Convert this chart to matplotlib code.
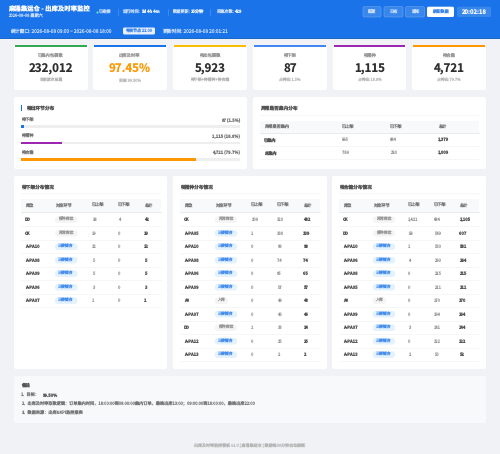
import matplotlib
matplotlib.use('Agg')
import matplotlib.pyplot as plt
from matplotlib.patches import FancyBboxPatch, Rectangle

plt.rcParams['font.family'] = ['Noto Sans CJK SC', 'DejaVu Sans']
plt.rcParams['text.hinting'] = 'no_hinting'

BLUE = '#1a73e8'
DARK = '#555555'
GREY = '#999999'
LABEL = '#777777'
LINE = '#f0f0f0'
HEAD = '#c4dbfa'

# kpi cards
card_titles = ['已集内包裹数', '出库及时率', '待出包裹数', '待下架', '待播种', '待合箱']
card_values = ['232,012', '97.45%', '5,923', '87', '1,115', '4,721']
card_subs = ['当前波次总量', '目标 99.50%', '待下架+待播种+待合箱', '占待出 1.5%', '占待出 18.8%', '占待出 79.7%']
card_colors = ['#34a853', BLUE, '#fbbc04', '#4285f4', '#9c27b0', '#ff9800']

# stage distribution
stage_names = ['待下架', '待播种', '待合箱']
stage_counts = ['87 (1.5%)', '1,115 (18.8%)', '4,721 (79.7%)']
stage_pct = [1.5, 18.8, 79.7]
stage_colors = ['#1a73e8', '#9c27b0', '#ff9800']

# abnormal table
abn_header = ['异常是否集内', '已上架', '已下架', '总计']
abn_names = ['已集内', '未集内']
abn_up = ['695', '789']
abn_down = ['684', '220']
abn_total = ['1,379', '1,009']

table_header = ['库位', '对应环节', '已上架', '已下架', '总计']

# 待下架
t1_loc = ['DD', 'CK', 'A-PA10', 'A-PA08', 'A-PA09', 'A-PA06', 'A-PA07']
t1_stage = ['播种库位', '异常库位', '三楼储合', '三楼储合', '三楼储合', '三楼储合', '三楼储合']
t1_up = ['38', '19', '12', '5', '5', '3', '1']
t1_down = ['4', '0', '0', '0', '0', '0', '0']
t1_total = ['42', '19', '12', '5', '5', '3', '1']

# 待播种
t2_loc = ['CK', 'A-PA05', 'A-PA10', 'A-PA08', 'A-PA06', 'A-PA09', 'A0', 'A-PA07', 'DD', 'A-PA12', 'A-PA13']
t2_stage = ['异常库位', '三楼储合', '三楼储合', '三楼储合', '三楼储合', '三楼储合', '入库', '三楼储合', '播种库位', '三楼储合', '三楼储合']
t2_up = ['309', '1', '0', '0', '0', '0', '0', '0', '1', '0', '0']
t2_down = ['123', '138', '93', '74', '65', '57', '48', '46', '33', '25', '2']
t2_total = ['432', '139', '93', '74', '65', '57', '48', '46', '34', '25', '2']

# 待合箱
t3_loc = ['CK', 'DD', 'A-PA10', 'A-PA06', 'A-PA08', 'A-PA05', 'A0', 'A-PA09', 'A-PA07', 'A-PA12', 'A-PA13']
t3_stage = ['异常库位', '播种库位', '三楼储合', '三楼储合', '三楼储合', '三楼储合', '入库', '三楼储合', '三楼储合', '三楼储合', '三楼储合']
t3_up = ['1,421', '58', '1', '4', '0', '0', '0', '0', '3', '0', '2']
t3_down = ['684', '549', '530', '260', '215', '211', '170', '164', '141', '122', '50']
t3_total = ['2,105', '607', '531', '264', '215', '211', '170', '164', '144', '122', '52']

notes = ['1、目标：', '2、出库及时率取数逻辑：订单集内时间，18:00:00到09:00:00集内订单，最晚出库13:00；09:00:00到18:00:00，最晚出库22:00', '3、数据来源：出库&KPI监控报表']

fig = plt.figure(figsize=(5, 4.54), dpi=100, facecolor='#f0f2f5')
ax = fig.add_axes([0, 0, 1, 1])
ax.set_xlim(0, 500)
ax.set_ylim(454, 0)
ax.axis('off')


def box(x0, y0, x1, y1, color='white', r=2, ec='none', lw=0, z=1):
    ax.add_patch(FancyBboxPatch((x0 + r, y0 + r), x1 - x0 - 2 * r, y1 - y0 - 2 * r,
                                boxstyle='round,pad=%f,rounding_size=%f' % (r, r),
                                fc=color, ec=ec, lw=lw, zorder=z))


def txt(x, y, s, size=3, color=DARK, weight='normal', ha='left'):
    ax.text(x, y, s, fontsize=size, color=color, fontweight=weight, ha=ha, va='center', zorder=5)


# header
ax.add_patch(Rectangle((0, 0), 500, 38, fc=BLUE, ec='none'))
ax.plot([0, 500], [38.3, 38.3], color='#1565c0', lw=0.7)
txt(8, 9, '麻涌集运仓 - 出库及时率监控', 4.6, '#f4f8ff', 'bold')
txt(8, 16, '2026-08-08 星期六', 3, HEAD)
ax.plot([96.5], [12], 'o', ms=1.5, color='#69f0ae', mew=0)
txt(99, 12, '已连接', 3, HEAD)
txt(122, 12, '运行时间: ', 3, HEAD)
txt(141.5, 12, '5d 4h 4m', 3, '#e4effd', 'bold')
txt(172, 12, '数据更新: ', 3, HEAD)
txt(191, 12, '15分钟', 3, '#e4effd', 'bold')
txt(216, 12, '采集次数: ', 3, HEAD)
txt(234, 12, '429', 3, '#e4effd', 'bold')
for sx in [118, 168, 210]:
    ax.plot([sx, sx], [8.5, 15], color='#5a9cf0', lw=0.4)
txt(10.5, 31, '统计窗口: 2026-08-08 09:00 ~ 2026-08-08 18:00', 3.45, HEAD)
box(123, 27.5, 155, 34.5, '#e8f0fe', 1.5, z=2)
txt(139, 31, '考核节点 22:00', 2.9, '#3d87ec', 'normal', 'center')
txt(162, 31, '更新时间: 2026-08-08 20:01:21', 3.45, HEAD)

btn_x = [(363, 381, '配置'), (384, 403, '日志'), (405.5, 424.5, '通知')]
for x0, x1, s in btn_x:
    box(x0, 6.7, x1, 17, '#3a87ec', 1.5, ec='#6aa5f2', lw=0.4, z=2)
    txt((x0 + x1) / 2, 12, s, 3, HEAD, 'normal', 'center')
box(427, 6.7, 454, 17, 'white', 1.5, z=2)
txt(440.5, 12, '刷新数据', 3, '#3d87ec', 'normal', 'center')
box(457, 6.7, 491, 17, '#3a87ec', 1.5, z=2)
txt(474, 12, '20:02:18', 4.3, '#f4f8ff', 'bold', 'center')

# cards
card_x = [(14, 88), (93, 167), (173, 247), (253, 327), (333, 406), (412, 486)]
for i, (x0, x1) in enumerate(card_x):
    box(x0, 45, x1, 90, z=1)
    ax.add_patch(Rectangle((x0 + 0.8, 45), x1 - x0 - 1.6, 2, fc=card_colors[i], ec='none', zorder=2))
    xc = (x0 + x1) / 2
    txt(xc, 55.5, card_titles[i], 3.1, GREY, 'normal', 'center')
    vcolor = '#ff9800' if i == 1 else '#2f2f2f'
    txt(xc, 69, card_values[i], 8.3, vcolor, 'bold', 'center')
    txt(xc, 80.7, card_subs[i], 2.8, '#b5b5b5', 'normal', 'center')

# stage panel
box(14, 97, 247, 169)
ax.add_patch(Rectangle((21, 104.5), 1, 6.5, fc=BLUE, ec='none', zorder=2))
txt(26, 107.7, '待出环节分布', 3.4, DARK, 'bold')
label_y = [120.5, 136.5, 153]
for i, name in enumerate(stage_names):
    txt(21, label_y[i], name, 3, LABEL)
    txt(240, label_y[i], stage_counts[i], 3, LABEL, 'bold', 'right')

bar_ax = fig.add_axes([21 / 500, 1 - 161 / 454, 219 / 500, 36 / 454])
bar_ax.barh(range(3), [100, 100, 100], height=0.155, color='#eeeeee')
bar_ax.barh(range(3), stage_pct, height=0.155, color=stage_colors)
bar_ax.set_xlim(0, 100)
bar_ax.set_ylim(2.104, -0.104)
bar_ax.axis('off')

# abnormal panel
box(253, 97, 486, 169)
txt(260, 107.7, '异常是否集内分布', 3.4, DARK, 'bold')
ax.plot([260, 479], [114.5, 114.5], color=LINE, lw=0.4)
ax.add_patch(Rectangle((260, 120.7), 219, 12.3, fc='#f8f9fa', ec='none', zorder=2))
ax.plot([260, 479], [133.2, 133.2], color='#e8e8e8', lw=0.6, zorder=3)
abn_col = [264, 342, 390, 438]
for c, s in zip(abn_col, abn_header):
    txt(c, 127, s, 3, LABEL)
abn_y = [140, 152.7]
for i in range(2):
    txt(abn_col[0], abn_y[i], abn_names[i], 3, DARK, 'bold')
    txt(abn_col[1], abn_y[i], abn_up[i], 3, GREY)
    txt(abn_col[2], abn_y[i], abn_down[i], 3, GREY)
    txt(abn_col[3], abn_y[i], abn_total[i], 3, DARK, 'bold')
    ax.plot([260, 479], [abn_y[i] + 6.4] * 2, color=LINE, lw=0.4)


def loc_table(x0, x1, tx0, tx1, cols, title, locs, stages, ups, downs, totals):
    box(x0, 176, x1, 369)
    txt(tx0, 186.7, title, 3.4, DARK, 'bold')
    ax.plot([tx0, tx1], [193, 193], color=LINE, lw=0.4)
    ax.add_patch(Rectangle((tx0, 199), tx1 - tx0, 13, fc='#f8f9fa', ec='none', zorder=2))
    ax.plot([tx0, tx1], [212.2, 212.2], color='#e8e8e8', lw=0.6, zorder=3)
    for c, s in zip(cols, table_header):
        txt(c, 205.7, s, 3, LABEL)
    for i in range(len(locs)):
        y = 219.7 + 13.5 * i
        txt(cols[0], y, locs[i], 3, DARK, 'bold')
        if stages[i].startswith('三楼'):
            box(cols[1], y - 3.3, cols[1] + 22.5, y + 3.3, '#e3f2fd', 3, z=3)
            txt(cols[1] + 11.2, y, stages[i], 2.8, '#4a90ea', 'normal', 'center')
        else:
            w = 22.5 if len(stages[i]) > 2 else 13.5
            box(cols[1], y - 3.3, cols[1] + w, y + 3.3, '#f5f5f5', 3, z=3)
            txt(cols[1] + w / 2, y, stages[i], 2.8, GREY, 'normal', 'center')
        txt(cols[2], y, ups[i], 3, GREY)
        txt(cols[3], y, downs[i], 3, GREY)
        txt(cols[4], y, totals[i], 3, DARK, 'bold')
        ax.plot([tx0, tx1], [y + 6.7, y + 6.7], color=LINE, lw=0.4)


loc_table(14, 167, 21, 161, [25, 55, 92, 118, 144], '待下架分布情况', t1_loc, t1_stage, t1_up, t1_down, t1_total)
loc_table(173, 327, 180, 320, [184, 214.7, 251, 277, 303], '待播种分布情况', t2_loc, t2_stage, t2_up, t2_down, t2_total)
loc_table(332, 486, 339, 479, [343, 372.7, 408, 434, 459], '待合箱分布情况', t3_loc, t3_stage, t3_up, t3_down, t3_total)

# notes
box(14, 376, 486, 423, '#f8f9fa')
txt(21, 385, '备注', 3.2, DARK, 'bold')
txt(21, 395.7, notes[0], 3, LABEL)
txt(42, 395.7, '99.50%', 3, DARK, 'bold')
txt(21, 404.3, notes[1], 3, LABEL)
txt(21, 413, notes[2], 3, LABEL)

txt(250, 445.7, '出库及时率监控看板 v1.0 | 麻涌集运仓 | 数据每30分钟自动刷新', 2.9, '#b5b5b5', 'normal', 'center')

fig.savefig('out.png', dpi=100, facecolor=fig.get_facecolor())
